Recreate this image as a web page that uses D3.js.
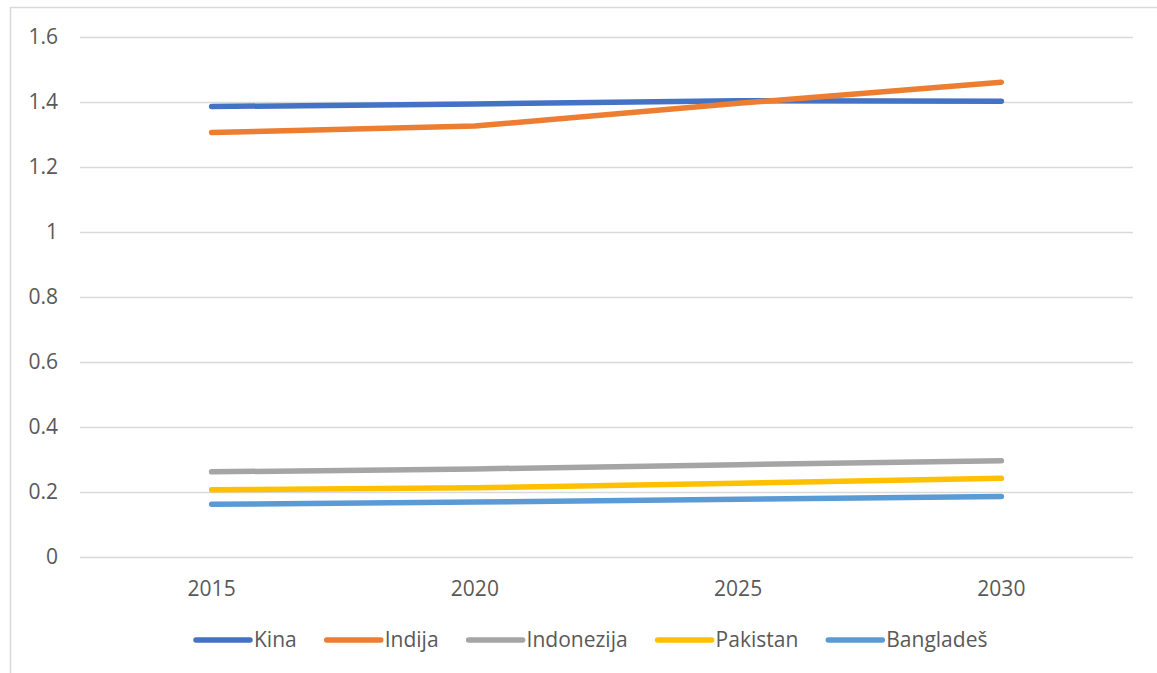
<!DOCTYPE html>
<html>
<head>
<meta charset="utf-8">
<script src="https://cdn.jsdelivr.net/npm/d3@7"></script>
<style>
  body { margin: 0; background: #fff; }
  text { font-family: "Open Sans", sans-serif; fill: #595959; }
</style>
</head>
<body>
<script>
const years = ['2015', '2020', '2025', '2030']
const series_names = ['Kina', 'Indija', 'Indonezija', 'Pakistan', 'Bangladeš']
const kina = [1.386, 1.394, 1.404, 1.402]
const indija = [1.306, 1.326, 1.396, 1.461]
const indonezija = [0.262, 0.271, 0.284, 0.296]
const pakistan = [0.207, 0.213, 0.227, 0.242]
const banglades = [0.162, 0.169, 0.178, 0.186]
const y_ticks = [0, 0.2, 0.4, 0.6, 0.8, 1, 1.2, 1.4, 1.6]

const colors = ['#4472C4', '#ED7D31', '#A5A5A5', '#FFC000', '#5B9BD5']
const all_values = [kina, indija, indonezija, pakistan, banglades]

const width = 1157, height = 673
const plot = { left: 80, right: 1133, top: 37, bottom: 557 }

const svg = d3.select('body')
  .append('svg')
  .attr('width', width)
  .attr('height', height);

// chart frame
svg.append('rect')
  .attr('x', 10.5).attr('y', 7.5)
  .attr('width', 1170).attr('height', 700)
  .attr('fill', 'none')
  .attr('stroke', '#d9d9d9')
  .attr('stroke-width', 1.5);

const x = d3.scaleBand().domain(years).range([plot.left, plot.right]);
const y = d3.scaleLinear().domain([0, 1.6]).range([plot.bottom, plot.top]);

// gridlines
svg.selectAll('line.grid')
  .data(y_ticks)
  .enter()
  .append('line')
  .attr('class', 'grid')
  .attr('x1', plot.left).attr('x2', plot.right)
  .attr('y1', d => Math.round(y(d)) + 0.5)
  .attr('y2', d => Math.round(y(d)) + 0.5)
  .attr('stroke', '#d9d9d9')
  .attr('stroke-width', 1.3);

// y labels
svg.selectAll('text.ylab')
  .data(y_ticks)
  .enter()
  .append('text')
  .attr('class', 'ylab')
  .attr('x', 58)
  .attr('y', d => y(d))
  .attr('dy', '0.35em')
  .attr('text-anchor', 'end')
  .attr('font-size', '21px')
  .text(d => d3.format('~g')(d));

// x labels
svg.selectAll('text.xlab')
  .data(years)
  .enter()
  .append('text')
  .attr('class', 'xlab')
  .attr('x', d => x(d) + x.bandwidth() / 2)
  .attr('y', 596)
  .attr('text-anchor', 'middle')
  .attr('font-size', '21px')
  .text(d => d);

const line = d3.line()
  .x((d, i) => x(years[i]) + x.bandwidth() / 2)
  .y(d => y(d));

svg.selectAll('path.series')
  .data(all_values)
  .enter()
  .append('path')
  .attr('class', 'series')
  .attr('d', d => line(d))
  .attr('fill', 'none')
  .attr('stroke', (d, i) => colors[i])
  .attr('stroke-width', 5.5)
  .attr('stroke-linecap', 'round')
  .attr('stroke-linejoin', 'round');

// legend
const legend_y = 640;
let lx = 196;
series_names.forEach((name, i) => {
  svg.append('line')
    .attr('x1', lx).attr('x2', lx + 54)
    .attr('y1', legend_y).attr('y2', legend_y)
    .attr('stroke', colors[i])
    .attr('stroke-width', 5.5)
    .attr('stroke-linecap', 'round');
  const t = svg.append('text')
    .attr('x', lx + 58)
    .attr('y', legend_y)
    .attr('dy', '0.35em')
    .attr('font-size', '21px')
    .text(name);
  lx = lx + 58 + t.node().getComputedTextLength() + 30;
});
</script>
</body>
</html>
